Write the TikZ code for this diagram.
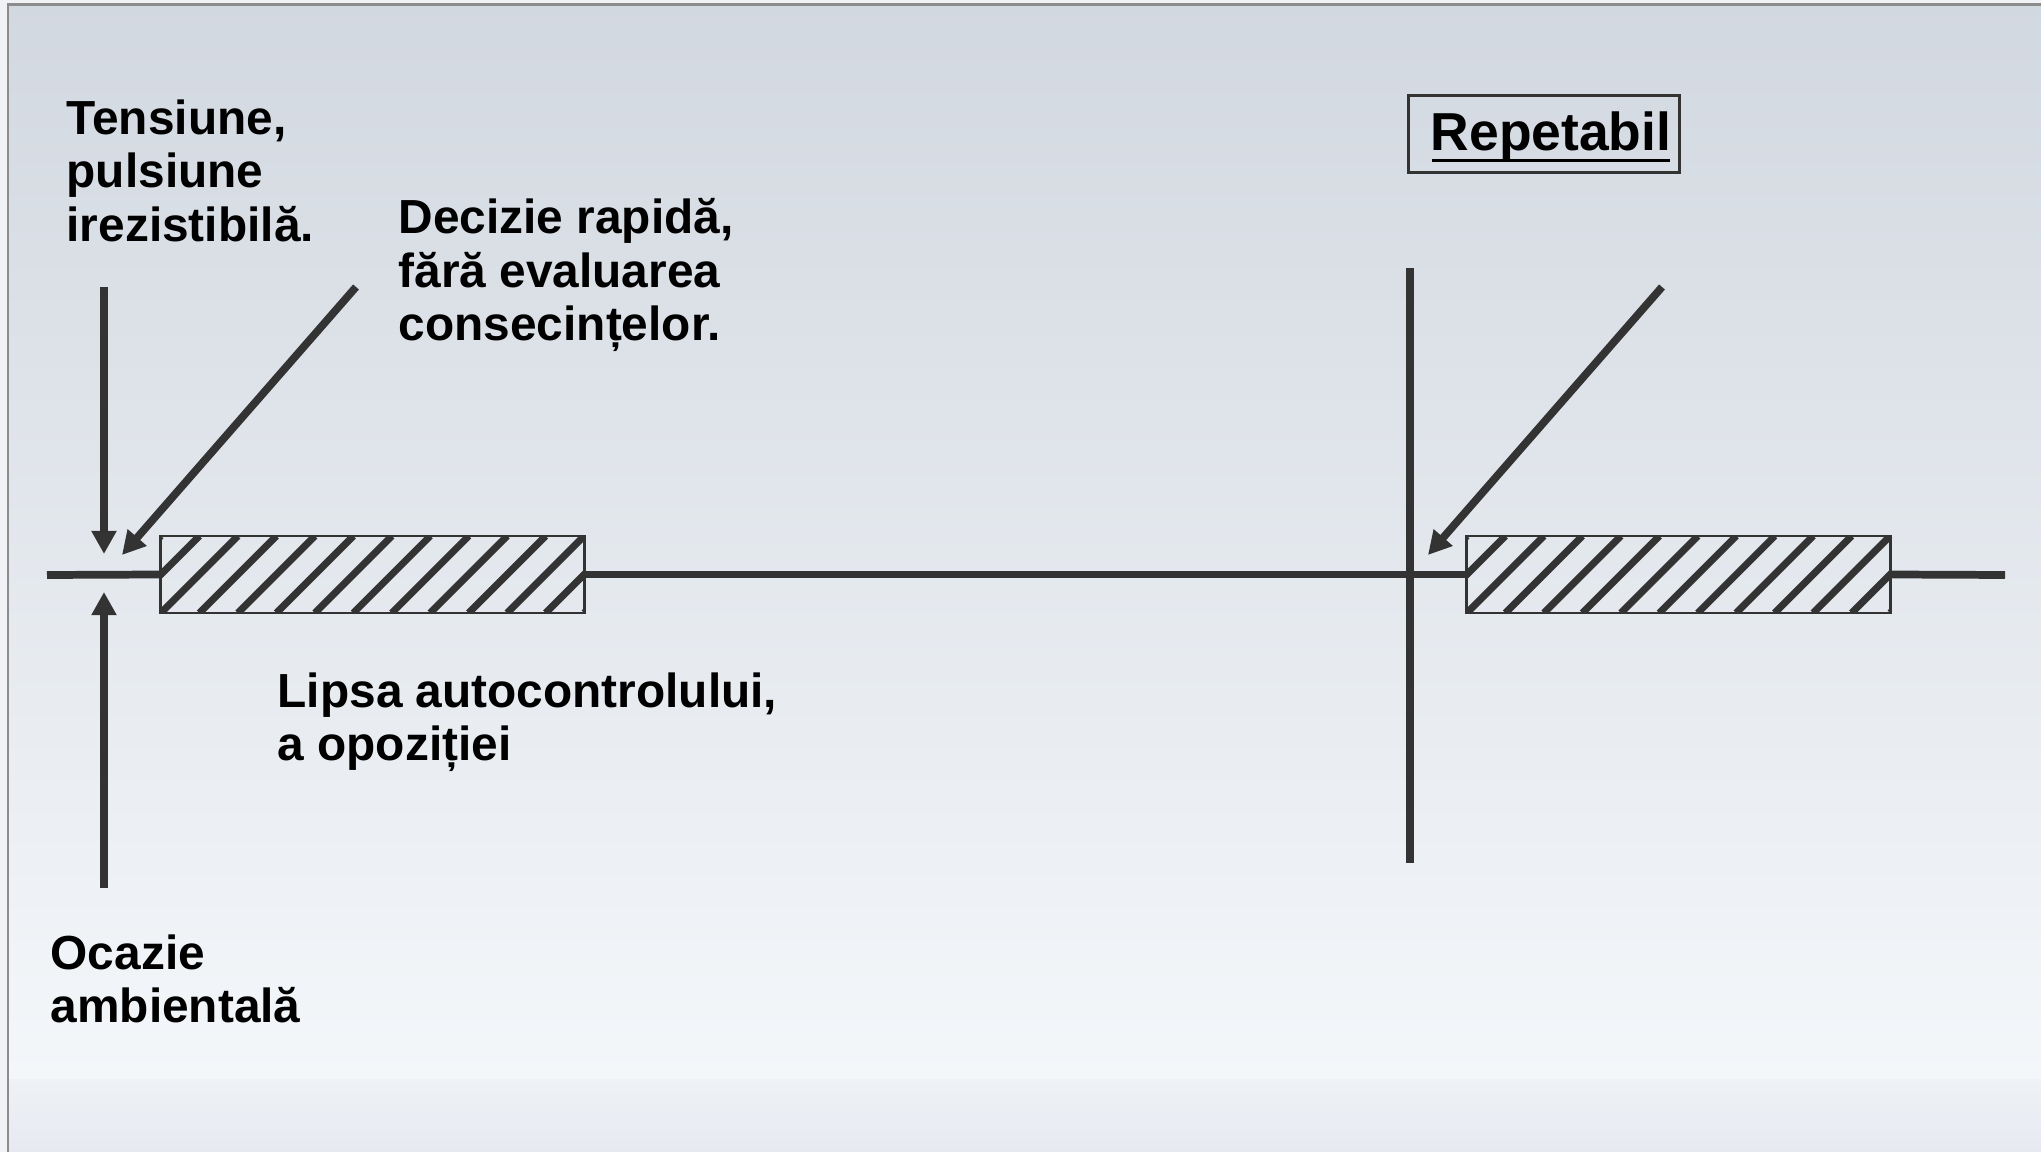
\documentclass[tikz,border=0pt]{standalone}
\usepackage{fontspec}
\setmainfont{Liberation Sans}
\usetikzlibrary{arrows.meta}
\definecolor{ink}{RGB}{51,51,51}
\definecolor{bgtop}{RGB}{210,216,224}
\definecolor{bgmid}{RGB}{226,230,236}
\definecolor{bgbot}{RGB}{244,247,250}
\definecolor{bandtop}{RGB}{238,241,245}
\definecolor{bandbot}{RGB}{230,233,240}
\definecolor{frame}{RGB}{140,140,140}
\tikzset{
  ln/.style={line width=2.2pt, draw=ink},
  arr/.style={ln, -{Triangle[length=6.6pt,width=6.8pt]}},
  hbox/.style={rectangle, draw=ink, line width=0.8pt, inner sep=0pt,
    minimum width=4.23cm, minimum height=0.77cm,
    path picture={\foreach \k in {-2,...,11}{
      \draw[line width=2pt, draw=ink]
        ([xshift=\k*0.3845cm]path picture bounding box.south west) -- ++(0.77cm,0.77cm);}}},
  lbl/.style={anchor=north west, inner sep=0pt, align=left,
    font=\fontsize{13.6}{15.2}\selectfont\bfseries},
  repstyle/.style={rectangle, draw=ink, line width=0.85pt, inner sep=0pt,
    minimum width=2.70cm, minimum height=0.76cm, text depth=0.05cm,
    font=\fontsize{15.2}{18}\selectfont\bfseries},
}
\begin{document}
\begin{tikzpicture}[x=0.01cm, y=-0.01cm]
\useasboundingbox (0,0) rectangle (2041,1152);
% background
\fill[color={rgb,255:red,240;green,242;blue,245}] (0,0) rectangle (2041,1152);
\shade[top color=bgtop, middle color=bgmid, bottom color=bgbot] (8,5) rectangle (2041,1080);
\shade[top color=bandtop, bottom color=bandbot] (8,1080) rectangle (2041,1152);
\draw[frame, line width=0.85pt] (8,1152) -- (8,5) -- (2041,5);

% hatched boxes
\node[hbox] (b1) at (372.5,574.5) {};
\node[hbox] (b2) at (1678.5,574.5) {};

% timeline
\coordinate (tl0) at (47,575);
\coordinate (tl1) at (2005,575);
\draw[ln] (tl0) -- (b1.west);
\draw[ln] (b1.east) -- (b2.west);
\draw[ln] (b2.east) -- (tl1);

% vertical separator
\coordinate (v0) at (1410,268);
\coordinate (v1) at (1410,863);
\draw[ln] (v0) -- (v1);

% arrows
\coordinate (a0) at (104,287);
\coordinate (a0t) at (104,554);
\coordinate (a1) at (104,888);
\coordinate (a1t) at (104,592);
\coordinate (d0) at (356,287);
\coordinate (d0t) at (122,555);
\coordinate (d1) at (1662,287);
\coordinate (d1t) at (1428,555);
\draw[arr] (a0) -- (a0t);
\draw[arr] (a1) -- (a1t);
\draw[arr] (d0) -- (d0t);
\draw[arr] (d1) -- (d1t);

% labels
\node[lbl] (t1) at (66,99) {Tensiune,\\pulsiune\\irezistibilă.};
\node[lbl] (t2) at (398,198) {Decizie rapidă,\\fără evaluarea\\consecințelor.};
\node[lbl] (t3) at (277,672) {Lipsa autocontrolului,\\a opoziției};
\node[lbl] (t4) at (50,934) {Ocazie\\ambientală};

% Repetabil
\node[repstyle] (rep) at (1544,134) {\hspace*{0.14cm}Repetabil};
\draw[line width=0.9pt, draw=black] ([xshift=-1.12cm,yshift=-0.10cm]rep.base) -- ([xshift=1.26cm,yshift=-0.10cm]rep.base);
\end{tikzpicture}
\end{document}
